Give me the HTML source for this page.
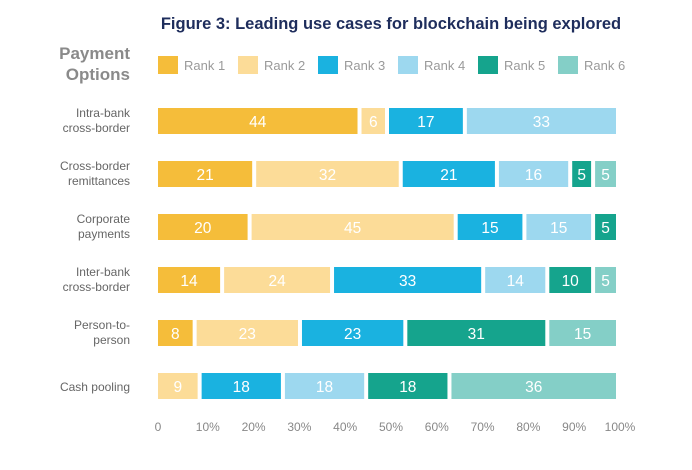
<!DOCTYPE html>
<html><head><meta charset="utf-8"><style>
html,body{margin:0;padding:0;background:#fff;}
svg{display:block;font-family:"Liberation Sans",sans-serif;}
</style></head><body>
<svg id="chart" width="692" height="470" viewBox="0 0 692 470" xmlns="http://www.w3.org/2000/svg">
<text x="391" y="29" text-anchor="middle" font-size="16.5" font-weight="bold" fill="#1e2d5c">Figure 3: Leading use cases for blockchain being explored</text>
<text x="130" y="59" text-anchor="end" font-size="17" font-weight="bold" fill="#8a8a8a">Payment</text>
<text x="130" y="80" text-anchor="end" font-size="17" font-weight="bold" fill="#8a8a8a">Options</text>
<g id="legend"></g>
<g id="bars"></g>
<g id="labels"></g>
<g id="xaxis"></g>
</svg>
<script>
const categories = [["Intra-bank","cross-border"],["Cross-border","remittances"],["Corporate","payments"],["Inter-bank","cross-border"],["Person-to-","person"],["Cash pooling"]];
const seriesNames = ["Rank 1","Rank 2","Rank 3","Rank 4","Rank 5","Rank 6"];
const rank1 = [44,21,20,14,8,0];
const rank2 = [6,32,45,24,23,9];
const rank3 = [17,21,15,33,23,18];
const rank4 = [33,16,15,14,0,18];
const rank5 = [0,5,5,10,31,18];
const rank6 = [0,5,0,5,15,36];
const xTicks = ["0","10%","20%","30%","40%","50%","60%","70%","80%","90%","100%"];
const series = [rank1,rank2,rank3,rank4,rank5,rank6];
const colors = ["#f5bd3a","#fcdc98","#1ab2e0","#9dd8ef","#15a48d","#84cfc7"];
const NS = "http://www.w3.org/2000/svg";
const X0 = 158, X1 = 616;
const x = v => X0 + (X1 - X0) * v / 100;
const rowY = i => 108 + i * 53;
const BH = 26;
function mk(tag, attrs, parent){const e=document.createElementNS(NS,tag);for(const k in attrs)e.setAttribute(k,attrs[k]);parent.appendChild(e);return e;}
const legend=document.getElementById('legend');
seriesNames.forEach((n,i)=>{
  const lx=158+i*80;
  const r=mk('rect',{x:lx,y:56,width:20,height:18,fill:colors[i]},legend);
  
  
  const t=mk('text',{x:lx+26,y:70,'font-size':13,fill:'#9a9a9a'},legend);
  t.textContent=n;
  
  
});
const bars=document.getElementById('bars');
const labels=document.getElementById('labels');
categories.forEach((c,ci)=>{
  const y=rowY(ci);
  let cum=0;
  const total=series.reduce((s,a)=>s+a[ci],0);
  const k=100/total;
  series.forEach((arr,si)=>{
    const v=arr[ci];
    if(v>0){
      const a=cum===0?x(0):x(cum*k)+2;
      const b=cum+v>=total?x(100):x((cum+v)*k)-2;
      const r=mk('rect',{x:a,y:y,width:Math.max(0,b-a),height:BH,fill:colors[si]},bars);
      
      
      const t=mk('text',{x:(a+b)/2,y:y+19,'font-size':15.5,'text-anchor':'middle',fill:'#fff'},bars);
      t.textContent=v;
      
      
    }
    cum+=v;
  });
  c.forEach((l,li)=>{
    const t=mk('text',{x:130,y:(c.length===1?y+18:y+9+li*15),'font-size':12,'text-anchor':'end',fill:'#666'},labels);
    t.textContent=l;
    
    
  });
});
const xa=document.getElementById('xaxis');
xTicks.forEach((l,i)=>{
  const t=mk('text',{x:x(i*10)+(i===0?0:4),y:431,'font-size':12,'text-anchor':'middle',fill:'#888'},xa);
  t.textContent=l;
  
  
});
</script>
</body></html>
